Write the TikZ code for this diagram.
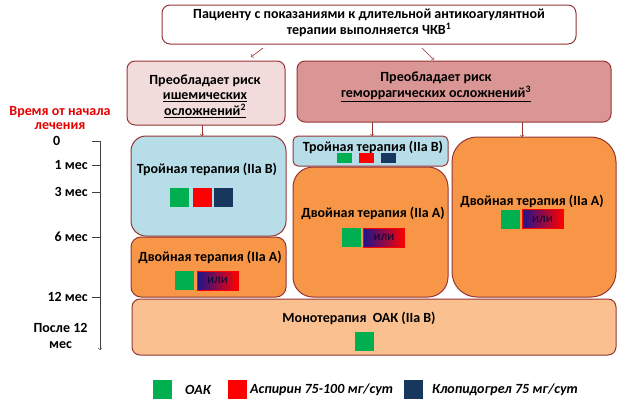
\documentclass[tikz,border=0pt]{standalone}
\usepackage{fontspec}
\setmainfont{Carlito}
\definecolor{bord}{RGB}{148,54,52}
\definecolor{palepink}{RGB}{242,220,219}
\definecolor{darkpink}{RGB}{217,150,148}
\definecolor{lightblue}{RGB}{183,222,232}
\definecolor{orng}{RGB}{247,150,70}
\definecolor{peach}{RGB}{250,192,144}
\definecolor{oakgreen}{RGB}{0,176,80}
\definecolor{clopblue}{RGB}{23,55,94}
\definecolor{ilidark}{RGB}{30,20,140}
\definecolor{timered}{RGB}{230,0,0}
\definecolor{axisgray}{RGB}{64,64,64}
\tikzset{
  box/.style={draw=bord,line width=1pt,inner sep=0pt,outer sep=0pt},
  txt/.style={font=\bfseries\fontsize{14}{15.5}\selectfont,inner sep=0pt,align=center},
  legtxt/.style={font=\bfseries\itshape\fontsize{14}{15}\selectfont,inner sep=0pt,anchor=west},
  oak/.style={fill=oakgreen,minimum size=19pt,inner sep=0pt},
  asp/.style={fill=red,minimum size=19pt,inner sep=0pt},
  clop/.style={fill=clopblue,minimum size=19pt,inner sep=0pt},
  ili/.style={draw=red,line width=1pt,left color=ilidark,right color=red,minimum width=41pt,minimum height=19pt,inner sep=0pt,
    font=\fontsize{13}{13}\selectfont,text=ilidark!40!black},
  arr/.style={-to,bord,semithick},
}
\begin{document}
\begin{tikzpicture}[x=1pt,y=-1pt]
  \useasboundingbox (0,0) rectangle (626,405);
  % decision boxes
  \node[box,fill=white,rounded corners=8pt,minimum width=414pt,minimum height=39pt] (top) at (369,24.5) {};
  \node[txt] (toptxt) at (369,23) {Пациенту с показаниями к длительной антикоагулянтной\\терапии выполняется ЧКВ\textsuperscript{1}};
  \node[box,fill=palepink,rounded corners=8pt,minimum width=158pt,minimum height=64pt] (lrisk) at (206,93) {};
  \node[txt] (lrisktxt) at (205,96) {Преобладает риск\\\underline{ишемических}\\\underline{осложнений\textsuperscript{2}}};
  \node[box,fill=darkpink,rounded corners=8pt,minimum width=314pt,minimum height=61pt] (rrisk) at (454,91.5) {};
  \node[txt] (rrisktxt) at (436,87) {Преобладает риск\\\underline{геморрагических осложнений\textsuperscript{3}}};
  % therapy boxes
  \node[box,fill=lightblue,rounded corners=15pt,minimum width=155pt,minimum height=100pt] (ltriple) at (208.5,186) {};
  \node[box,fill=orng,rounded corners=10pt,minimum width=155pt,minimum height=60pt] (ldouble) at (208.5,267) {};
  \node[box,fill=lightblue,rounded corners=5pt,minimum width=155pt,minimum height=30pt] (mtriple) at (370.5,151) {};
  \node[box,fill=orng,rounded corners=20pt,minimum width=155pt,minimum height=130pt] (mdouble) at (370.5,232) {};
  \node[box,fill=orng,rounded corners=25pt,minimum width=164pt,minimum height=160pt] (rdouble) at (534,217) {};
  \node[box,fill=peach,rounded corners=8pt,minimum width=484pt,minimum height=56pt] (mono) at (374,327) {};
  \node[txt] (ltripletxt) at (207,169) {Тройная терапия (IIa B)};
  \node[txt] (ldoubletxt) at (210,257) {Двойная терапия (IIa A)};
  \node[txt] (mtripletxt) at (373,147) {Тройная терапия (IIa B)};
  \node[txt] (mdoubletxt) at (373,213) {Двойная терапия (IIa A)};
  \node[txt] (rdoubletxt) at (532,201) {Двойная терапия (IIa A)};
  \node[txt] (monotxt) at (359,318) {Монотерапия\ \ ОАК (IIa B)};
  % drugs
  \node[oak] (lt1) at (179.5,197.5) {};
  \node[asp] (lt2) at (202,197.5) {};
  \node[clop] (lt3) at (223.5,197.5) {};
  \node[oak,minimum width=15pt,minimum height=10pt] (mt1) at (344.5,158) {};
  \node[asp,minimum width=15pt,minimum height=10pt] (mt2) at (366.5,158) {};
  \node[clop,minimum width=15pt,minimum height=10pt] (mt3) at (388.5,158) {};
  \node[oak] (ld1) at (184,280.5) {};
  \node[ili] (ld2) at (217.5,280.5) {или};
  \node[oak] (md1) at (351.5,237.5) {};
  \node[ili] (md2) at (384,237.5) {или};
  \node[oak] (rd1) at (510,219) {};
  \node[ili] (rd2) at (542.5,219) {или};
  \node[oak] (mo1) at (364.5,341.5) {};
  % arrows
  \draw[arr] ([shift={(-106pt,-4pt)}]top.south) -- ([shift={(45pt,4pt)}]lrisk.north);
  \draw[arr] ([shift={(53pt,-4pt)}]top.south) -- ([shift={(-20pt,1pt)}]rrisk.north);
  \draw[arr] ([xshift=-4pt]lrisk.south) -- ([xshift=-6.5pt]ltriple.north);
  \draw[arr] ([xshift=-82pt]rrisk.south) -- ([xshift=1.5pt]mtriple.north);
  \draw[arr] ([xshift=68pt]rrisk.south) -- ([xshift=-12pt]rdouble.north);
  % time axis
  \node[txt,text=timered,font=\bfseries\fontsize{14}{14}\selectfont] (timelbl) at (60,118) {Время от начала\\лечения};
  \coordinate (ax0) at (100,141);
  \coordinate (ax1) at (100,350);
  \draw[axisgray,semithick] (92,141) -- (ax0);
  \draw[axisgray,semithick,-to] (ax0) -- (ax1);
  \node[txt,anchor=west] (t0) at (53,141) {0};
  \foreach \y/\t in {165/1 мес,192/3 мес,237/6 мес,297/12 мес}{
    \draw[axisgray,semithick] (92,\y) -- (100,\y);
    \node[txt,anchor=east] (t\y) at (88,\y) {\t};
  }
  \node[txt,font=\bfseries\fontsize{14}{16}\selectfont] (tafter) at (60.5,336) {После 12\\мес};
  % legend
  \node[oak] (legoak) at (162,389.5) {};
  \node[legtxt] (legoaktxt) at (185,390) {ОАК};
  \node[asp] (legasp) at (237.5,389.5) {};
  \node[legtxt] (legasptxt) at (250,390) {Аспирин 75-100 мг/сут};
  \node[clop] (legclop) at (413,389.5) {};
  \node[legtxt] (legcloptxt) at (432,390) {Клопидогрел 75 мг/сут};
\end{tikzpicture}
\end{document}
